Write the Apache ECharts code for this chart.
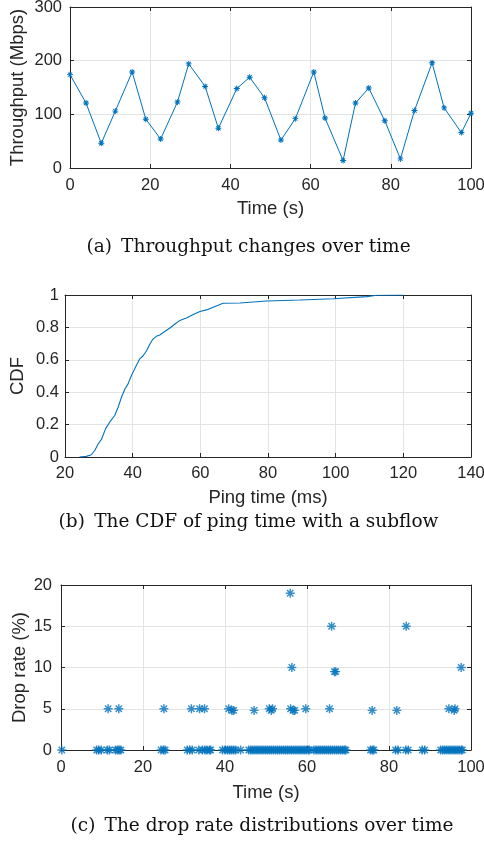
<!DOCTYPE html>
<html>
<head>
<meta charset="utf-8">
<script src="https://cdn.jsdelivr.net/npm/echarts@6/dist/echarts.min.js"></script>
<style>
html,body{margin:0;padding:0;background:#fff;}
#chart{width:484px;height:846px;}
</style>
</head>
<body>
<div id="chart"></div>
<script>
// (a) Throughput over time
const tpTime  = [0, 4.0, 7.8, 11.3, 15.5, 18.9, 22.6, 26.8, 29.6, 33.7, 37.0, 41.6, 44.8, 48.5, 52.6, 56.2, 60.8, 63.6, 68.1, 71.2, 74.5, 78.5, 82.4, 85.9, 90.3, 93.3, 97.6, 100];
const tpValue = [174, 121, 46, 106, 179, 91, 54, 123, 194, 152, 74, 148, 169, 131, 52, 92, 179, 93, 14, 121, 149, 88, 17, 107, 196, 112, 66, 102];

// (b) CDF of ping time
const pingTime = [24.3, 26.3, 27.8, 28.8, 29.8, 30.8, 32.0, 33.2, 34.7, 35.7, 36.7, 37.7, 38.6, 39.6, 40.6, 42.1, 43.1, 44.1, 45.1, 46.0, 47.0, 48.0, 49.5, 51.0, 52.5, 53.9, 55.9, 57.9, 59.9, 61.8, 63.8, 65.8, 66.7, 71.7, 79.6, 89.4, 99.3, 109.2, 112.1, 120];
const pingCdf  = [0, 0.004, 0.014, 0.04, 0.08, 0.11, 0.175, 0.215, 0.256, 0.307, 0.369, 0.42, 0.45, 0.502, 0.544, 0.606, 0.625, 0.656, 0.697, 0.728, 0.745, 0.753, 0.775, 0.796, 0.821, 0.842, 0.858, 0.879, 0.898, 0.908, 0.925, 0.941, 0.949, 0.951, 0.963, 0.969, 0.977, 0.990, 0.998, 1.0];

// (c) Drop rate over time: non-zero samples
const dropTimes = [11.5, 14.1, 25.1, 31.8, 33.8, 35.0, 40.9, 41.7, 42.1, 47.1, 50.8, 51.3, 51.6, 55.9, 56.0, 56.3, 56.6, 57.0, 59.7, 65.5, 66.0, 66.7, 67.0, 75.9, 81.9, 84.2, 94.6, 95.9, 96.1, 97.6];
const dropRates = [5, 5, 5, 5, 5, 5, 5, 4.8, 4.8, 4.8, 5, 4.8, 5, 19, 5, 10, 4.8, 4.8, 5, 5, 15, 9.5, 9.5, 4.8, 4.8, 15, 5, 4.8, 5, 10];
// (c) times with zero drop rate
const zeroDropTimes = [0.2, 8.7, 9.2, 9.8, 11.3, 11.8, 13.3, 13.8, 14.2, 14.6, 24.4, 25.0, 25.4,
  30.8, 31.4, 32.0, 33.6, 34.5, 35.1, 35.6, 36.2, 36.5, 39.4, 40.0, 40.6, 41.1, 41.6, 42.1, 42.6, 43.8,
  45.8, 46.3, 46.8, 47.3, 47.8, 48.3, 48.8, 49.3, 49.8, 50.3, 50.8, 51.3, 51.8, 52.3, 52.8, 53.3, 53.8,
  54.3, 54.8, 55.3, 55.8, 56.3, 56.8, 57.3, 57.8, 58.3, 58.8, 59.3, 59.8, 60.3, 60.6,
  61.7, 62.2, 62.7, 63.2, 63.7, 64.2, 64.7, 65.2, 65.7, 66.2, 66.7, 67.2, 67.7, 68.2, 68.7, 69.2, 69.5,
  75.5, 76.0, 76.3, 81.6, 82.2, 84.1, 84.7, 88.1, 88.7,
  92.6, 93.1, 93.6, 94.1, 94.6, 95.1, 95.6, 96.1, 96.6, 97.1, 97.6, 97.9];

const captions = ['(a)\u2002Throughput changes over time', '(b)\u2002The CDF of ping time with a subflow', '(c)\u2002The drop rate distributions over time'];

const BLUE = '#0072BD';
const INK = '#262626';
const GRIDC = '#e3e3e3';
const SANS = '"Liberation Sans", Arial, Helvetica, sans-serif';
const SERIF = '"DejaVu Serif", serif';
const ASTER = 'path://M0,4.2L10,4.2L10,5.8L0,5.8Z M5.8,0L5.8,10L4.2,10L4.2,0Z M2.07,0.93L9.07,7.93L7.93,9.07L0.93,2.07Z M7.93,0.93L9.07,2.07L2.07,9.07L0.93,7.93Z';

function xAxes(gi, min, max, interval, name, nameGap, margin) {
  const base = {type: 'value', gridIndex: gi, min, max, interval,
    axisLine: {show: true, onZero: false, lineStyle: {color: INK, width: 1}},
    axisTick: {show: true, inside: true, length: 4, lineStyle: {color: INK}}};
  return [
    Object.assign({}, base, {position: 'bottom', name, nameLocation: 'middle', nameGap, nameMoveOverlap: false,
      nameTextStyle: {color: INK, fontFamily: SANS, fontSize: 18.5},
      axisLabel: {show: true, color: INK, fontFamily: SANS, fontSize: 16.5, margin, showMinLabel: true, showMaxLabel: true},
      splitLine: {show: true, lineStyle: {color: GRIDC, width: 1}}}),
    Object.assign({}, base, {position: 'top', axisLabel: {show: false}, splitLine: {show: false}})
  ];
}
function yAxes(gi, min, max, interval, name, nameGap, margin) {
  const base = {type: 'value', gridIndex: gi, min, max, interval,
    axisLine: {show: true, onZero: false, lineStyle: {color: INK, width: 1}},
    axisTick: {show: true, inside: true, length: 4, lineStyle: {color: INK}}};
  return [
    Object.assign({}, base, {position: 'left', name, nameLocation: 'middle', nameGap, nameRotate: 90, nameMoveOverlap: false,
      nameTextStyle: {color: INK, fontFamily: SANS, fontSize: 18.5},
      axisLabel: {show: true, color: INK, fontFamily: SANS, fontSize: 16.5, margin, showMinLabel: true, showMaxLabel: true},
      splitLine: {show: true, lineStyle: {color: GRIDC, width: 1}}}),
    Object.assign({}, base, {position: 'right', axisLabel: {show: false}, splitLine: {show: false}})
  ];
}

const chart = echarts.init(document.getElementById('chart'), null, {renderer: 'canvas'});
chart.setOption({
  backgroundColor: '#fff',
  animation: false,
  grid: [
    {left: 70, right: 13, top: 7, height: 161, containLabel: false, outerBoundsMode: 'none'},
    {left: 65, right: 13, top: 295, height: 162, containLabel: false, outerBoundsMode: 'none'},
    {left: 61, right: 13, top: 585, height: 165, containLabel: false, outerBoundsMode: 'none'}
  ],
  xAxis: [].concat(
    xAxes(0, 0, 100, 20, 'Time (s)', 31, 9),
    xAxes(1, 20, 140, 20, 'Ping time (ms)', 31.5, 8),
    xAxes(2, 0, 100, 20, 'Time (s)', 33.5, 8.5)
  ),
  yAxis: [].concat(
    yAxes(0, 0, 300, 100, 'Throughput (Mbps)', 43, 8),
    yAxes(1, 0, 1, 0.2, 'CDF', 38, 6),
    yAxes(2, 0, 20, 5, 'Drop rate (%)', 32, 9)
  ),
  series: [
    {type: 'line', xAxisIndex: 0, yAxisIndex: 0, clip: false,
     data: tpTime.map((t, i) => [t, tpValue[i]]),
     symbol: ASTER, symbolSize: 6, showAllSymbol: true,
     lineStyle: {color: BLUE, width: 1}, itemStyle: {color: BLUE}},
    {type: 'line', xAxisIndex: 2, yAxisIndex: 2, clip: true,
     data: pingTime.map((t, i) => [t, pingCdf[i]]),
     showSymbol: false, symbol: 'none',
     lineStyle: {color: BLUE, width: 1.1}},
    {type: 'scatter', xAxisIndex: 4, yAxisIndex: 4, clip: false,
     data: zeroDropTimes.map(t => [t, 0]),
     symbol: ASTER, symbolSize: 9, itemStyle: {color: BLUE}},
    {type: 'scatter', xAxisIndex: 4, yAxisIndex: 4, clip: false,
     data: dropTimes.map((t, i) => [t, dropRates[i]]),
     symbol: ASTER, symbolSize: 9, itemStyle: {color: BLUE}}
  ],
  graphic: [
    {type: 'text', x: 248.5, y: 247, style: {text: captions[0], fill: '#111', font: '18.5px ' + SERIF, align: 'center', verticalAlign: 'middle'}},
    {type: 'text', x: 248.5, y: 522, style: {text: captions[1], fill: '#111', font: '18.5px ' + SERIF, align: 'center', verticalAlign: 'middle'}},
    {type: 'text', x: 262, y: 826, style: {text: captions[2], fill: '#111', font: '18.5px ' + SERIF, align: 'center', verticalAlign: 'middle'}}
  ]
});
</script>
</body>
</html>
